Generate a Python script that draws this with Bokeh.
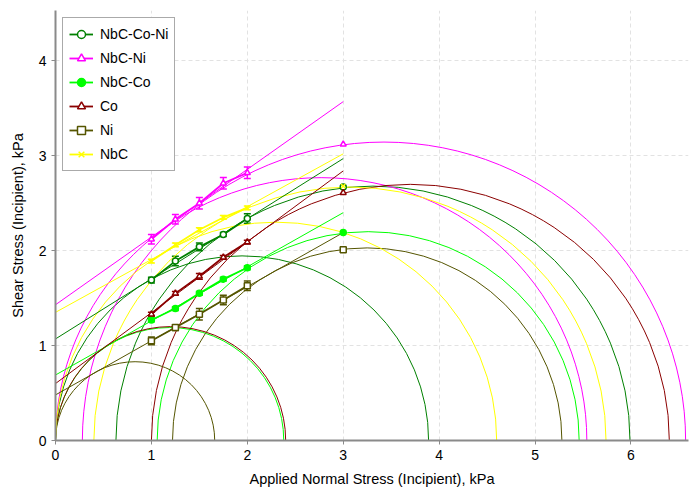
from bokeh.plotting import figure
from bokeh.models import Range1d, Whisker, TeeHead, ColumnDataSource, Legend, LegendItem, FixedTicker
from bokeh.embed import file_html
from bokeh.resources import INLINE

# ---------------- data ----------------
normal_stress = [1.0, 1.25, 1.5, 1.75, 2.0]
preshear_normal = [3.0]
fit_x = [0.0, 3.0]

series_names = ["NbC-Co-Ni", "NbC-Ni", "NbC-Co", "Co", "Ni", "NbC"]
colors = ["#008000", "#FF00FF", "#00FF00", "#8B0000", "#555500", "#FFFF00"]
markers = ["circle", "triangle", "circle", "triangle", "square", "x"]
marker_fill = ["white", "white", "#00FF00", "white", "white", "#FFFF00"]

shear_nbc_co_ni = [1.69, 1.89, 2.04, 2.17, 2.34]
shear_nbc_ni = [2.12, 2.33, 2.50, 2.71, 2.82]
shear_nbc_co = [1.27, 1.39, 1.55, 1.70, 1.82]
shear_co = [1.33, 1.55, 1.73, 1.93, 2.09]
shear_ni = [1.05, 1.19, 1.33, 1.48, 1.63]
shear_nbc = [1.89, 2.06, 2.22, 2.35, 2.45]

err_nbc_co_ni = [0.03, 0.05, 0.04, 0.02, 0.05]
err_nbc_ni = [0.05, 0.05, 0.06, 0.06, 0.06]
err_nbc_co = [0.02, 0.02, 0.02, 0.02, 0.02]
err_co = [0.02, 0.02, 0.03, 0.02, 0.02]
err_ni = [0.04, 0.03, 0.06, 0.05, 0.05]
err_nbc = [0.02, 0.02, 0.02, 0.02, 0.02]

# pre-shear shear stress at normal stress 3 kPa
preshear_shear = [2.67, 3.12, 2.19, 2.61, 2.01, 2.68]

# yield locus fit lines: value at x=0 and x=3
fit_start = [1.07, 1.43, 0.69, 0.60, 0.48, 1.35]
fit_end = [2.97, 3.57, 2.40, 2.84, 2.19, 3.02]

# Mohr circles: unconfined yield (through origin) diameter, consolidation circle endpoints
unconfined_diam = [3.89, 5.54, 2.38, 2.40, 1.66, 4.60]
major_left = [0.63, 0.28, 1.06, 1.00, 1.22, 0.40]
major_right = [5.99, 6.57, 5.46, 6.40, 5.28, 5.74]

shears = [shear_nbc_co_ni, shear_nbc_ni, shear_nbc_co, shear_co, shear_ni, shear_nbc]
errs = [err_nbc_co_ni, err_nbc_ni, err_nbc_co, err_co, err_ni, err_nbc]

FONT = "Liberation Sans"

p = figure(width=690, height=489, output_backend="svg", toolbar_location=None,
           x_range=Range1d(0, 6.6), y_range=Range1d(0, 4.53),
           min_border_left=55, min_border_right=2, min_border_top=10, min_border_bottom=48)
p.outline_line_color = None
p.background_fill_color = "white"

for ax in (p.xaxis[0], p.yaxis[0]):
    ax.axis_line_color = "#8a8a8a"
    ax.axis_line_width = 2
    ax.major_tick_line_color = "#8a8a8a"
    ax.major_tick_out = 4
    ax.major_tick_in = 0
    ax.minor_tick_line_color = None
    ax.major_label_text_font = FONT
    ax.major_label_text_font_size = "14px"
    ax.major_label_text_color = "black"
    ax.axis_label_text_font = FONT
    ax.axis_label_text_font_size = "14.5px"
    ax.axis_label_text_font_style = "normal"
    ax.axis_label_text_color = "black"

p.xaxis.ticker = FixedTicker(ticks=[0, 1, 2, 3, 4, 5, 6])
p.yaxis.ticker = FixedTicker(ticks=[0, 1, 2, 3, 4])
p.xaxis.axis_label = "Applied Normal Stress (Incipient), kPa"
p.yaxis.axis_label = "Shear Stress (Incipient), kPa"
p.xaxis.axis_label_standoff = 8
p.yaxis.axis_label_standoff = 10

p.xgrid.grid_line_color = "#e2e2e2"
p.ygrid.grid_line_color = "#e2e2e2"
p.xgrid.grid_line_dash = "4 3"
p.ygrid.grid_line_dash = "4 3"

# Mohr circles
for i in range(len(series_names)):
    c = colors[i]
    d_u = unconfined_diam[i]
    p.ellipse(x=[d_u / 2.0], y=[0.0], width=[d_u], height=[d_u],
              fill_color=None, line_color=c, line_width=1)
    cm = (major_left[i] + major_right[i]) / 2.0
    dm = major_right[i] - major_left[i]
    p.ellipse(x=[cm], y=[0.0], width=[dm], height=[dm],
              fill_color=None, line_color=c, line_width=1)

# fit lines
for i in range(len(series_names)):
    p.line(fit_x, [fit_start[i], fit_end[i]], line_color=colors[i], line_width=1)

items = []
for i in range(len(series_names)):
    c = colors[i]
    ys = shears[i]
    e = errs[i]
    src = ColumnDataSource(dict(x=normal_stress, y=ys,
                                up=[a + b for a, b in zip(ys, e)],
                                lo=[a - b for a, b in zip(ys, e)]))
    ln = p.line("x", "y", source=src, line_color=c, line_width=1.8)
    w = Whisker(source=src, base="x", upper="up", lower="lo", dimension="height",
                line_color=c, line_width=1.5,
                upper_head=TeeHead(size=7, line_color=c, line_width=1.5),
                lower_head=TeeHead(size=7, line_color=c, line_width=1.5))
    p.add_layout(w)
    sc = p.scatter("x", "y", source=src, marker=markers[i], size=6,
                   line_color=c, line_width=1.5, fill_color=marker_fill[i])
    p.scatter(preshear_normal, [preshear_shear[i]], marker=markers[i], size=6,
              line_color=c, line_width=1.5, fill_color=marker_fill[i])
    items.append(LegendItem(label=series_names[i], renderers=[ln, sc]))

legend = Legend(items=items, location="top_left")
legend.label_text_font = FONT
legend.label_text_font_size = "14px"
legend.label_text_color = "black"
legend.border_line_color = "#555555"
legend.border_line_width = 1
legend.background_fill_color = "white"
legend.background_fill_alpha = 1.0
legend.padding = 6
legend.spacing = 4
legend.margin = 7
legend.glyph_width = 24
legend.label_standoff = 7
p.add_layout(legend)

open("out.html", "w").write(file_html(p, INLINE))
